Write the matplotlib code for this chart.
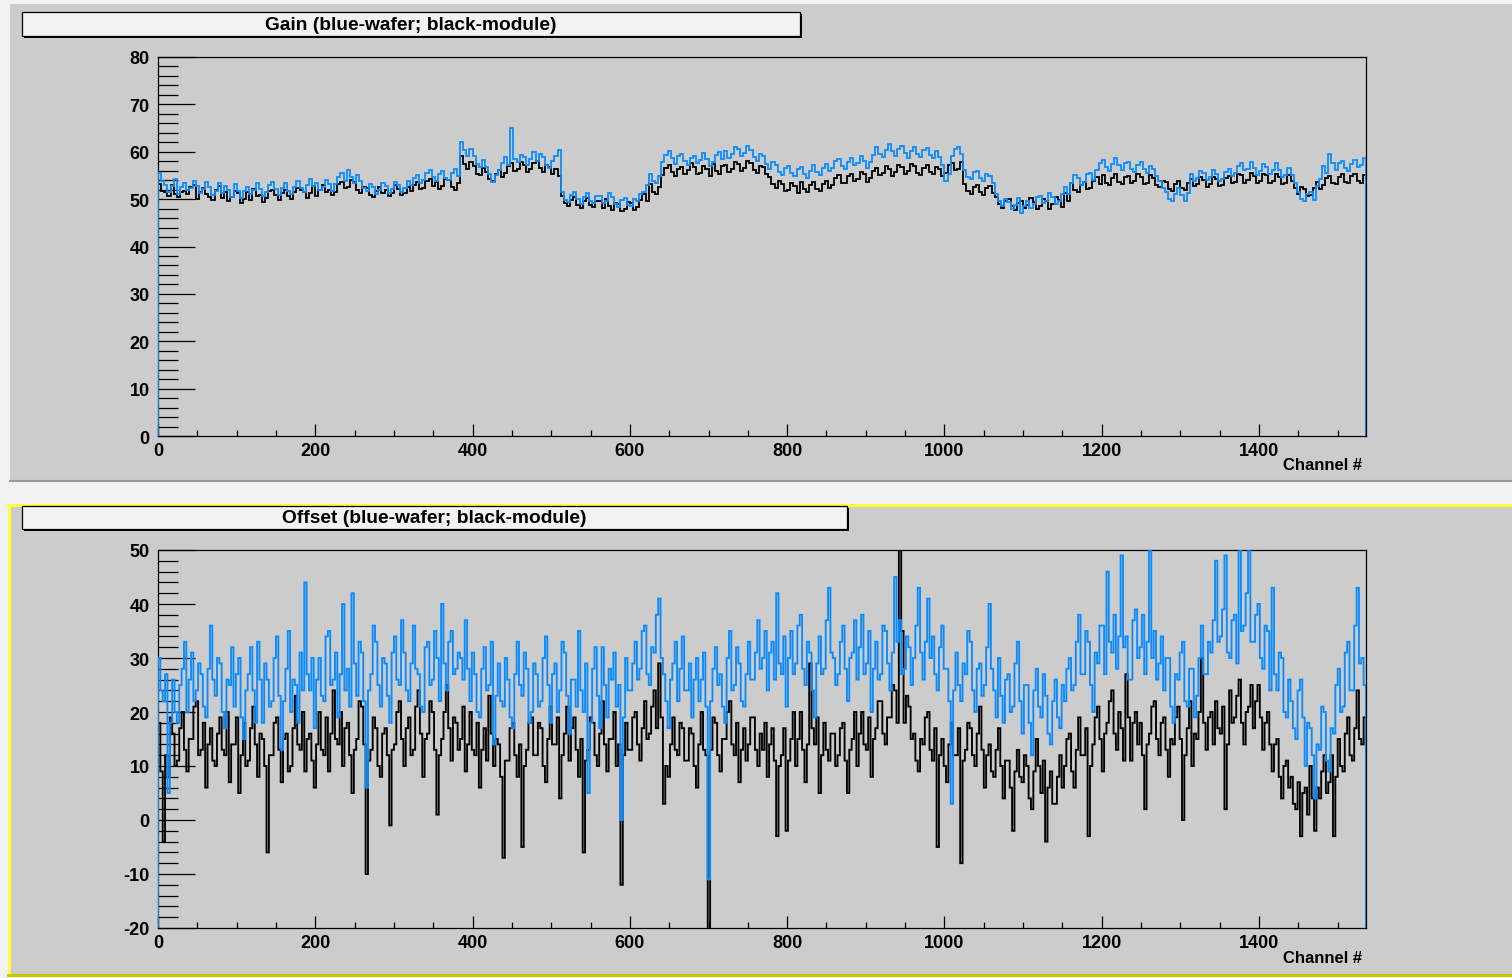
import numpy as np
import matplotlib
matplotlib.use("Agg")
import matplotlib.pyplot as plt
from matplotlib.patches import Rectangle
from matplotlib.lines import Line2D
from matplotlib.ticker import MultipleLocator

plt.rcParams['font.family'] = ['Liberation Sans', 'DejaVu Sans']
plt.rcParams['font.weight'] = 'bold'
plt.rcParams['axes.unicode_minus'] = False

# ---------------- data ----------------
n_channels = 1536

# Gain, 4-channel bins (384 values)
gain_module = [
    53.1, 51.8, 51.6, 50.6, 52.9, 51.1, 50.4, 51.6, 51.8, 51.1, 52.6, 53.0, 50.1, 51.5, 52.4, 51.0, 50.5, 49.8, 51.9, 52.7,
    50.3, 51.5, 49.6, 50.5, 51.7, 51.2, 49.1, 50.0, 51.4, 49.9, 52.1, 50.6, 50.9, 49.4, 50.2, 51.8, 52.0, 50.9, 49.9, 51.2,
    52.0, 50.7, 50.1, 51.6, 52.4, 51.9, 51.6, 50.2, 51.3, 52.8, 50.6, 51.9, 53.0, 51.4, 51.9, 50.8, 51.6, 53.1, 53.6, 52.3,
    52.6, 54.1, 53.6, 51.9, 51.2, 52.6, 52.3, 50.8, 50.5, 51.7, 52.6, 51.3, 51.9, 50.6, 51.3, 52.9, 52.2, 50.9, 51.2, 52.6,
    51.7, 52.9, 53.6, 52.2, 52.4, 53.8, 54.2, 52.8, 53.6, 52.1, 52.8, 54.3, 54.0, 52.5, 51.9, 53.4, 59.1, 57.5, 56.3, 57.8,
    56.9, 55.4, 55.1, 56.6, 55.8, 54.3, 53.9, 55.2, 56.1, 54.7, 55.5, 57.0, 57.6, 56.0, 56.4, 57.9, 57.3, 55.8, 56.3, 57.7,
    58.0, 56.5, 55.7, 57.1, 56.8, 55.2, 56.3, 54.8, 50.6, 49.1, 48.5, 49.9, 50.4, 48.8, 48.1, 49.5, 50.2, 48.7, 48.3, 49.7,
    49.5, 48.1, 50.1, 48.6, 47.8, 49.2, 48.9, 47.5, 48.0, 49.4, 49.1, 47.7, 48.3, 49.8, 51.0, 49.5, 53.2, 51.6, 51.1, 52.5,
    55.1, 56.6, 57.2, 55.7, 54.9, 56.3, 56.8, 55.3, 56.1, 57.6, 56.7, 55.2, 55.5, 57.0, 56.3, 54.8, 57.4, 55.9, 55.4, 56.9,
    57.2, 55.7, 56.3, 57.8, 57.4, 55.9, 56.5, 58.0, 57.6, 56.1, 55.5, 56.9, 56.8, 55.3, 54.6, 53.1, 52.3, 53.8, 53.2, 51.7,
    51.9, 53.4, 52.8, 51.3, 53.6, 52.1, 51.5, 52.9, 53.7, 52.2, 51.7, 53.1, 53.8, 52.3, 52.9, 54.4, 55.0, 53.5, 53.3, 54.8,
    55.4, 53.9, 54.3, 55.8, 55.2, 53.7, 54.5, 56.0, 56.6, 55.1, 55.5, 57.0, 56.4, 54.9, 55.7, 57.2, 56.8, 55.3, 55.9, 57.4,
    57.0, 55.5, 55.1, 56.6, 57.2, 55.7, 55.3, 56.8, 56.4, 54.9, 55.6, 57.1, 57.6, 56.1, 56.3, 57.8, 53.2, 51.7, 51.1, 52.6,
    53.0, 51.5, 50.9, 52.4, 52.8, 51.3, 50.4, 48.9, 48.1, 49.6, 50.0, 48.5, 47.7, 49.1, 49.7, 48.2, 48.8, 50.3, 49.4, 47.9,
    48.5, 50.0, 49.5, 48.0, 48.9, 50.4, 49.8, 48.3, 51.2, 49.7, 53.4, 51.9, 51.5, 53.0, 53.7, 52.2, 52.3, 53.8, 54.6, 53.1,
    55.0, 53.5, 52.9, 54.4, 55.2, 53.7, 53.1, 54.6, 54.8, 53.3, 53.9, 55.4, 54.6, 53.1, 53.5, 55.0, 54.4, 52.9, 52.5, 53.9,
    53.6, 52.1, 51.7, 53.2, 53.8, 52.3, 51.9, 53.4, 54.3, 52.8, 53.1, 54.6, 54.0, 52.5, 53.2, 54.7, 54.2, 52.7, 53.0, 54.5,
    54.8, 53.3, 53.7, 55.2, 55.0, 53.5, 54.1, 55.6, 54.8, 53.3, 53.9, 55.4, 55.0, 53.5, 53.8, 55.3, 54.6, 53.1, 53.5, 55.0,
    53.8, 52.3, 51.1, 52.6, 52.2, 50.7, 50.9, 52.4, 53.6, 52.1, 52.9, 54.4, 54.8, 53.3, 53.1, 54.6, 55.2, 53.7, 53.3, 54.8,
    55.4, 53.9, 53.5, 55.0,
]
gain_wafer = [
    55.6, 53.9, 52.9, 51.5, 52.7, 54.2, 51.1, 52.6, 53.4, 51.9, 52.4, 53.9, 52.8, 51.2, 52.1, 53.7, 52.5, 50.9, 51.8, 53.3,
    51.3, 52.8, 52.0, 50.5, 53.2, 51.7, 50.3, 51.8, 52.6, 51.1, 51.9, 53.4, 52.2, 50.7, 51.5, 53.0, 53.6, 52.1, 50.9, 52.4,
    53.3, 51.8, 51.1, 52.6, 53.8, 52.3, 51.5, 53.0, 54.2, 52.7, 53.4, 51.9, 52.5, 54.0, 53.2, 51.7, 53.1, 54.6, 55.6, 53.8,
    56.2, 54.6, 53.5, 55.0, 53.8, 52.3, 51.7, 53.2, 52.6, 51.1, 51.9, 53.4, 52.8, 51.3, 52.1, 53.6, 53.0, 51.5, 52.3, 53.8,
    52.9, 54.4, 55.0, 53.5, 54.1, 55.6, 56.2, 54.7, 53.9, 55.4, 56.0, 54.5, 54.1, 55.6, 56.4, 54.9, 62.0, 60.4, 59.0, 60.6,
    59.0, 57.5, 56.7, 58.2, 56.8, 55.2, 53.6, 55.1, 56.1, 57.6, 58.8, 57.3, 65.0, 58.4, 57.8, 59.3, 58.8, 57.3, 58.5, 60.0,
    58.1, 59.6, 58.8, 57.3, 56.5, 58.0, 59.0, 60.3, 51.4, 49.9, 49.3, 50.8, 51.6, 50.1, 48.9, 50.4, 51.2, 49.7, 49.1, 50.6,
    50.6, 49.1, 49.7, 51.2, 50.4, 48.9, 48.3, 49.8, 50.3, 48.8, 48.5, 50.0, 49.5, 51.0, 51.5, 53.0, 55.4, 53.9, 53.3, 54.8,
    57.9, 59.4, 60.2, 58.7, 57.5, 59.0, 59.6, 58.1, 57.1, 58.6, 59.2, 57.7, 58.3, 59.8, 58.4, 56.9, 57.8, 59.3, 60.0, 58.5,
    60.2, 58.7, 59.5, 61.0, 60.6, 59.1, 59.7, 61.2, 60.4, 58.9, 58.1, 59.6, 59.0, 57.5, 56.3, 57.8, 57.2, 55.7, 55.1, 56.6,
    57.0, 55.5, 54.9, 56.4, 56.8, 55.3, 54.5, 56.0, 57.2, 55.7, 55.1, 56.6, 57.4, 55.9, 56.5, 58.0, 58.4, 56.9, 56.3, 57.8,
    58.6, 57.1, 57.7, 59.2, 58.0, 56.5, 57.9, 59.4, 61.0, 59.5, 58.9, 60.4, 61.6, 60.1, 59.1, 60.6, 61.2, 59.7, 58.7, 60.2,
    61.0, 59.5, 58.9, 60.4, 60.8, 59.3, 58.7, 60.2, 58.8, 57.3, 53.9, 55.4, 59.1, 60.6, 61.0, 59.5, 56.2, 54.7, 54.3, 55.8,
    56.0, 54.5, 53.9, 55.4, 54.8, 53.3, 51.0, 49.5, 48.5, 50.0, 49.4, 47.9, 48.7, 50.2, 47.0, 48.6, 49.6, 48.1, 48.9, 50.4,
    50.6, 49.1, 49.7, 51.2, 50.4, 48.9, 49.5, 51.0, 52.6, 51.1, 53.5, 55.0, 54.4, 52.9, 53.7, 55.2, 55.6, 54.1, 56.1, 57.6,
    58.2, 56.7, 55.9, 57.4, 58.6, 57.1, 56.1, 57.6, 57.9, 56.4, 55.7, 57.2, 57.8, 56.3, 55.5, 57.0, 56.4, 54.9, 53.8, 52.3,
    51.6, 50.1, 49.5, 51.0, 52.4, 50.9, 49.7, 51.2, 55.4, 53.9, 54.5, 56.0, 55.6, 54.1, 54.7, 56.2, 55.4, 53.9, 54.3, 55.8,
    56.4, 54.9, 55.5, 57.0, 57.6, 56.1, 56.3, 57.8, 56.6, 55.1, 55.9, 57.4, 56.8, 55.3, 56.1, 57.6, 56.2, 54.7, 55.1, 56.6,
    55.0, 53.5, 51.6, 50.1, 49.5, 51.0, 51.4, 49.9, 52.7, 54.2, 57.0, 55.5, 59.6, 57.6, 56.1, 57.6, 58.0, 56.5, 55.9, 57.4,
    58.2, 56.7, 57.1, 58.6,
]

# Offset, 3-channel bins (512 values)
offset_wafer = [
    30, 24, 22, 27, 5, 18, 26, 20, 18, 25, 28, 33, 20, 26, 31, 22, 24, 29, 27, 21, 19, 28, 36, 26, 23, 30, 29, 20, 17, 26, 25, 32,
    21, 27, 30, 19, 15, 24, 27, 32, 24, 18, 33, 26, 18, 29, 26, 21, 22, 30, 34, 23, 13, 22, 28, 35, 20, 26, 25, 18, 31, 24, 44, 27,
    24, 30, 17, 26, 30, 23, 22, 34, 35, 25, 26, 31, 19, 27, 40, 24, 28, 21, 42, 29, 23, 33, 31, 22, 6, 24, 27, 36, 33, 25, 21, 30,
    29, 23, 18, 31, 34, 26, 25, 37, 31, 24, 22, 29, 36, 28, 27, 21, 20, 32, 33, 25, 26, 35, 30, 22, 40, 29, 24, 33, 35, 27, 28, 31,
    30, 26, 37, 28, 22, 31, 27, 20, 19, 28, 32, 24, 25, 33, 14, 23, 29, 22, 21, 30, 26, 19, 17, 27, 33, 25, 23, 31, 28, 18, 20, 29,
    27, 21, 22, 30, 34, 25, 18, 27, 29, 20, 24, 33, 31, 23, 16, 26, 26, 21, 35, 24, 20, 29, 5, 18, 28, 32, 23, 17, 32, 25, 19, 28,
    26, 31, 21, 25, 0, 19, 30, 24, 24, 29, 33, 26, 28, 35, 36, 27, 25, 32, 31, 38, 41, 30, 27, 22, 17, 26, 29, 33, 22, 28, 34, 24,
    24, 29, 19, 26, 30, 22, 26, 31, 21, -11, 22, 28, 32, 25, 27, 21, 18, 30, 35, 24, 25, 32, 29, 22, 21, 27, 33, 26, 26, 31, 37, 28,
    30, 35, 24, 31, 33, 26, 42, 29, 27, 34, 21, 30, 35, 27, 29, 36, 38, 28, 25, 33, 31, 24, 19, 29, 34, 27, 28, 37, 43, 31, 30, 25,
    27, 33, 36, 28, 22, 30, 31, 37, 26, 32, 38, 27, 29, 35, 20, 28, 33, 26, 27, 36, 35, 29, 24, 31, 45, 33, 37, 27, 28, 34, 32, 25,
    30, 36, 43, 31, 26, 33, 41, 30, 34, 27, 24, 32, 36, 28, 28, 22, 3, 24, 31, 25, 22, 29, 27, 35, 33, 24, 20, 28, 29, 23, 25, 32,
    40, 28, 24, 19, 30, 23, 18, 26, 27, 20, 21, 29, 33, 22, 16, 25, 25, 18, 12, 24, 28, 21, 19, 27, 23, 16, 14, 22, 26, 19, 17, 25,
    22, 28, 30, 24, 25, 33, 38, 27, 27, 35, 33, 25, 20, 31, 29, 36, 36, 27, 46, 33, 31, 38, 28, 34, 49, 32, 34, 26, 26, 37, 39, 30,
    32, 38, 27, 33, 52, 30, 35, 26, 29, 34, 24, 30, 30, 21, 18, 27, 26, 31, 33, 22, 21, 28, 28, 19, 23, 30, 36, 27, 27, 33, 31, 37,
    48, 33, 34, 39, 49, 31, 30, 37, 38, 29, 52, 35, 36, 42, 52, 33, 33, 38, 40, 30, 28, 36, 35, 24, 43, 27, 24, 31, 30, 20, 19, 26,
    22, 17, 15, 24, 26, 19, 10, 18, 17, 12, 4, 14, 13, 21, 20, 11, 9, 17, 16, 25, 28, 20, 21, 31, 33, 24, 24, 36, 43, 29, 30, 25,
]
offset_module = [
    18, 9, -4, 12, 8, 19, 16, 10, 11, 17, 20, 13, 9, 15, 15, 21, 22, 12, 13, 18, 6, 14, 17, 11, 10, 16, 19, 13, 12, 20, 7, 14,
    14, 19, 5, 12, 18, 10, 11, 17, 21, 14, 8, 16, 15, 10, -6, 12, 12, 18, 19, 13, 7, 15, 16, 9, 10, 17, 23, 14, 13, 20, 9, 15,
    16, 11, 6, 14, 20, 13, 12, 19, 9, 16, 24, 15, 14, 20, 10, 17, 18, 12, 5, 13, 15, 22, 21, 14, -10, 11, 13, 19, 17, 10, 8, 16,
    17, 12, -1, 13, 14, 20, 22, 15, 10, 17, 19, 12, 13, 21, 24, 16, 8, 15, 16, 22, 20, 13, 1, 12, 15, 20, 25, 17, 11, 19, 18, 13,
    15, 21, 9, 14, 20, 13, 12, 18, 6, 13, 17, 11, 23, 16, 10, 15, 14, 8, -7, 11, 11, 17, 18, 12, 8, 14, -5, 10, 13, 18, 19, 12,
    12, 18, 17, 10, 7, 15, 21, 14, 14, 19, 4, 12, 16, 21, 11, 17, 19, 13, 8, 15, -6, 11, 13, 19, 18, 12, 10, 16, 22, 14, 9, 15,
    15, 20, 10, 14, -12, 12, 18, 13, 13, 19, 20, 14, 11, 17, 22, 15, 16, 21, 24, 17, 29, 19, 3, 10, 8, 14, 19, 13, 12, 18, 17, 11,
    11, 17, 16, 10, 6, 14, 20, 13, 12, -21, 13, 19, 18, 12, 9, 15, 15, 20, 22, 14, 12, 18, 7, 13, 17, 11, 14, 19, 19, 13, 10, 16,
    13, 18, 8, 14, 17, 11, -3, 10, 12, 17, -2, 11, 15, 20, 10, 15, 20, 13, 7, 14, 29, 17, 14, 19, 5, 12, 18, 13, 11, 16, 16, 10,
    12, 17, 18, 11, 5, 13, 15, 20, 10, 16, 20, 14, 13, 19, 8, 15, 17, 22, 22, 16, 14, 19, 19, 25, 24, 18, 51, 35, 18, 23, 21, 15,
    16, 11, 9, 15, 14, 19, 20, 13, 11, 17, -5, 12, 15, 10, 7, 14, 18, 12, 12, 17, -8, 11, 13, 18, 17, 12, 10, 16, 21, 13, 6, 12,
    14, 9, 8, 13, 17, 10, 4, 11, 11, 6, -2, 9, 13, 8, 7, 12, 10, 4, 2, 9, 15, 10, 5, 11, -4, 6, 9, 3, 3, 8, 12, 6,
    10, 15, 16, 9, 6, 13, 19, 12, 12, 17, -3, 10, 14, 19, 21, 15, 9, 16, 18, 22, 24, 16, 13, 20, 17, 11, 27, 19, 11, 18, 20, 14,
    18, 12, 2, 14, 16, 21, 22, 15, 12, 18, 19, 13, 8, 15, 14, 19, 21, 15, 0, 12, 17, 22, 10, 16, 15, 20, 30, 18, 13, 19, 20, 14,
    22, 17, 16, 21, 2, 14, 24, 18, 19, 23, 26, 18, 14, 20, 21, 25, 17, 22, 25, 19, 13, 18, 20, 14, 9, 14, 15, 8, 4, 10, 11, 6,
    8, 3, 2, 7, -3, 5, 6, 1, 10, 4, -2, 6, 4, 9, 12, 5, 7, 12, -3, 8, 15, 10, 9, 16, 19, 12, 11, 17, 24, 15, 14, 19,
]

gain_title = "Gain (blue-wafer; black-module)"
offset_title = "Offset (blue-wafer; black-module)"
x_label = "Channel #"

# ---------------- styling ----------------
W, H = 1512, 979
BLUE = "#0a8cff"
BLACK = "#000000"
GRAY = "#cccccc"

fig = plt.figure(figsize=(W / 100, H / 100), dpi=100)
fig.patch.set_facecolor("#f2f2f2")


def frect(x0, y0, x1, y1, **kw):
    r = Rectangle((x0 / W, 1 - y1 / H), (x1 - x0) / W, (y1 - y0) / H,
                  transform=fig.transFigure, **kw)
    fig.add_artist(r)
    return r


def fline(xs, ys, **kw):
    l = Line2D([x / W for x in xs], [1 - y / H for y in ys],
               transform=fig.transFigure, **kw)
    fig.add_artist(l)
    return l


# panel backgrounds
frect(10, 5, W, 482, facecolor=GRAY, edgecolor="none", zorder=-5)
fline([10, W], [482, 482], color="#9a9a9a", lw=1.5, zorder=-4)
frect(8, 506, W, 976, facecolor=GRAY, edgecolor="none", zorder=-5)
fline([8, W], [506, 506], color="#ffff3c", lw=2.2, zorder=-4)
fline([9, 9], [506, 976], color="#ffff3c", lw=2.2, zorder=-4)
fline([8, W], [975.5, 975.5], color="#c8c800", lw=2.2, zorder=-4)


def title_box(x0, y0, x1, y1, text):
    frect(x0 + 2, y0 + 2, x1 + 2, y1 + 2, facecolor="black", edgecolor="none", zorder=2)
    frect(x0, y0, x1, y1, facecolor="#f2f2f2", edgecolor="black", lw=0.9, zorder=3)
    fig.text((x0 + x1) / 2 / W, 1 - (y0 + y1) / 2 / H, text, ha="center", va="center",
             fontsize=13.8, fontweight="bold", zorder=4)


title_box(22, 13, 800, 37, gain_title)
title_box(22, 507, 847, 530, offset_title)

left = 158 / W
width = 1208 / W


def make_axes(y_top, y_bot, ymin, ymax):
    ax = fig.add_axes([left, 1 - y_bot / H, width, (y_bot - y_top) / H])
    ax.set_facecolor(GRAY)
    ax.set_xlim(0, n_channels)
    ax.set_ylim(ymin, ymax)
    for s in ax.spines.values():
        s.set_linewidth(0.9)
        s.set_color("black")
    ax.xaxis.set_major_locator(MultipleLocator(200))
    ax.xaxis.set_minor_locator(MultipleLocator(50))
    ax.yaxis.set_major_locator(MultipleLocator(10))
    ax.yaxis.set_minor_locator(MultipleLocator(2))
    ax.tick_params(axis="y", which="major", direction="in", length=26.5, width=0.9,
                   left=True, right=False, labelsize=13, pad=6)
    ax.tick_params(axis="y", which="minor", direction="in", length=14.5, width=0.9,
                   left=True, right=False)
    ax.tick_params(axis="x", which="major", direction="in", length=8.5, width=0.9,
                   bottom=True, top=False, labelsize=13, pad=4)
    ax.tick_params(axis="x", which="minor", direction="in", length=4.3, width=0.9,
                   bottom=True, top=False)
    return ax


ax1 = make_axes(58, 437, 0, 80)
ax2 = make_axes(551, 929, -20, 50)

g_edges = np.linspace(0, n_channels, len(gain_module) + 1)
o_edges = np.linspace(0, n_channels, len(offset_module) + 1)

ax1.stairs(gain_module, g_edges, baseline=0, color=BLACK, lw=1.3, zorder=2)
ax1.stairs(gain_wafer, g_edges, baseline=0, color=BLUE, lw=1.3, zorder=3)
ax2.stairs(offset_module, o_edges, baseline=-20, color=BLACK, lw=1.35, zorder=2)
ax2.stairs(offset_wafer, o_edges, baseline=-20, color=BLUE, lw=1.35, zorder=3)

for ax in (ax1, ax2):
    ax.set_xticks([0, 200, 400, 600, 800, 1000, 1200, 1400])
    for lab in ax.get_xticklabels() + ax.get_yticklabels():
        lab.set_fontweight("bold")

fig.text(1362 / W, 1 - 466 / H, x_label, ha="right", va="center", fontsize=12, fontweight="bold")
fig.text(1362 / W, 1 - 959 / H, x_label, ha="right", va="center", fontsize=12, fontweight="bold")

fig.savefig("out.png", dpi=100, facecolor=fig.get_facecolor())
